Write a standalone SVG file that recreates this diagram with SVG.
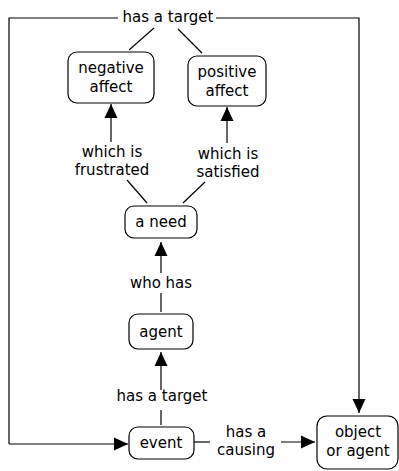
<svg xmlns="http://www.w3.org/2000/svg" width="399" height="471" viewBox="0 0 399 471">
<defs>
<marker id="ah" markerUnits="userSpaceOnUse" markerWidth="14" markerHeight="14" viewBox="0 0 14 14" refX="14" refY="7" orient="auto">
<path d="M0,0.5 L14,7 L0,13.5 Z" fill="#000"/>
</marker>
</defs>
<style>
.box{fill:#fff;stroke:#000;stroke-width:1.2}
.t{font-family:"DejaVu Sans",Verdana,sans-serif;font-size:15px;fill:#000;text-anchor:middle}
.c{fill:none;stroke:#000;stroke-width:1.2}
.a{fill:none;stroke:#000;stroke-width:1.2;marker-end:url(#ah)}
</style>
<rect width="399" height="471" fill="#fff"/>
<g id="connectors">
<polyline class="c" points="118,18 9,18 9,444"/>
<line class="a" x1="9" y1="444" x2="128" y2="444"/>
<polyline class="c" points="216,18 359,18 359,398"/>
<line class="a" x1="359" y1="398" x2="359" y2="413"/>
<line class="c" x1="154" y1="28" x2="129" y2="50"/>
<line class="c" x1="178" y1="29" x2="202" y2="53"/>
<line class="a" x1="111" y1="142" x2="111" y2="104"/>
<line class="a" x1="227" y1="143" x2="227" y2="107"/>
<line class="c" x1="127" y1="180" x2="147" y2="203"/>
<line class="c" x1="205" y1="182" x2="183" y2="203"/>
<line class="a" x1="161" y1="273" x2="161" y2="242"/>
<line class="c" x1="161" y1="293" x2="161" y2="312"/>
<line class="a" x1="161" y1="390" x2="161" y2="352"/>
<line class="c" x1="161" y1="410" x2="161" y2="425"/>
<line class="c" x1="194" y1="442" x2="210" y2="442"/>
<line class="a" x1="281" y1="442" x2="315" y2="442"/>
</g>
<g id="label-top"><text class="t" x="168" y="22">has a target</text></g>
<g id="negative-affect">
<rect class="box" x="68" y="52" width="86" height="51" rx="9"/>
<text class="t" x="111" y="73">negative</text>
<text class="t" x="111" y="92">affect</text>
</g>
<g id="positive-affect">
<rect class="box" x="188" y="56" width="78" height="50" rx="9"/>
<text class="t" x="227" y="77">positive</text>
<text class="t" x="227" y="96">affect</text>
</g>
<g id="label-frustrated">
<text class="t" x="112" y="157">which is</text>
<text class="t" x="112" y="175">frustrated</text>
</g>
<g id="label-satisfied">
<text class="t" x="228" y="159">which is</text>
<text class="t" x="228" y="177">satisfied</text>
</g>
<g id="a-need">
<rect class="box" x="125" y="206" width="72" height="32" rx="9"/>
<text class="t" x="161" y="227">a need</text>
</g>
<g id="label-who-has"><text class="t" x="161" y="288">who has</text></g>
<g id="agent">
<rect class="box" x="129" y="314" width="64" height="35" rx="9"/>
<text class="t" x="161" y="337">agent</text>
</g>
<g id="label-target2"><text class="t" x="162" y="401">has a target</text></g>
<g id="event">
<rect class="box" x="129" y="427" width="65" height="32" rx="9"/>
<text class="t" x="161" y="448">event</text>
</g>
<g id="label-causing">
<text class="t" x="246" y="437">has a</text>
<text class="t" x="246" y="455">causing</text>
</g>
<g id="object-or-agent">
<rect class="box" x="317" y="416" width="81" height="53" rx="10"/>
<text class="t" x="358" y="437">object</text>
<text class="t" x="358" y="456">or agent</text>
</g>
</svg>
